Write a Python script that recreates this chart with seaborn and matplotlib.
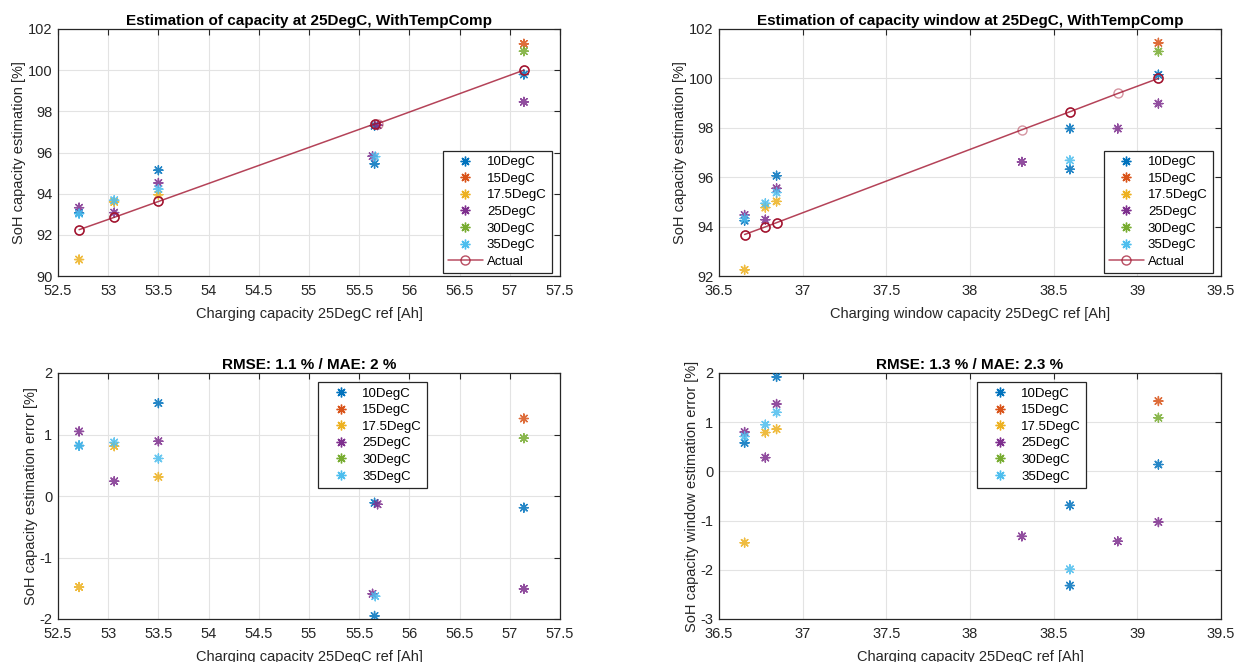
import numpy as np
import pandas as pd
import matplotlib
matplotlib.use("Agg")
import matplotlib.pyplot as plt
from matplotlib.lines import Line2D
import seaborn as sns

# ---------------- data ----------------
temps = ["10DegC", "15DegC", "17.5DegC", "25DegC", "30DegC", "35DegC"]
colors = ["#0072BD", "#D95319", "#EDB120", "#7E2F8E", "#77AC30", "#4DBEEE"]
actual_color = "#A2142F"

# Capacity: reference capacity [Ah] and SoH estimates [%] per temperature
cap_x = {
    "10DegC": [52.71, 53.50, 55.653, 55.653, 57.14],
    "15DegC": [57.14],
    "17.5DegC": [52.71, 53.06, 53.50],
    "25DegC": [52.71, 53.06, 53.50, 55.633, 55.683, 57.14],
    "30DegC": [57.14],
    "35DegC": [52.71, 53.06, 53.50, 55.66],
}
cap_est = {
    "10DegC": [93.06, 95.14, 97.30, 95.45, 99.79],
    "15DegC": [101.28],
    "17.5DegC": [90.80, 93.60, 93.95],
    "25DegC": [93.32, 93.08, 94.52, 95.82, 97.33, 98.46],
    "30DegC": [100.92],
    "35DegC": [93.03, 93.68, 94.22, 95.80],
}
cap_err = {
    "10DegC": [0.82, 1.51, -0.11, -1.95, -0.19],
    "15DegC": [1.26],
    "17.5DegC": [-1.48, 0.81, 0.31],
    "25DegC": [1.05, 0.24, 0.89, -1.59, -0.135, -1.51],
    "30DegC": [0.94],
    "35DegC": [0.82, 0.87, 0.61, -1.63],
}
cap_actual_x = [52.71, 53.06, 53.50, 55.653, 55.683, 57.14]
cap_actual_y = [92.25, 92.85, 93.62, 97.39, 97.40, 100.00]

# Capacity window: reference window capacity [Ah] and SoH estimates [%]
win_x = {
    "10DegC": [36.653, 36.844, 38.597, 38.597, 39.126],
    "15DegC": [39.126],
    "17.5DegC": [36.653, 36.777, 36.844],
    "25DegC": [36.653, 36.777, 36.844, 38.31, 38.883, 39.126],
    "30DegC": [39.126],
    "35DegC": [36.653, 36.777, 36.844, 38.597],
}
win_est = {
    "10DegC": [94.24, 96.06, 97.97, 96.32, 100.15],
    "15DegC": [101.44],
    "17.5DegC": [92.25, 94.77, 95.02],
    "25DegC": [94.47, 94.28, 95.55, 96.62, 97.97, 98.98],
    "30DegC": [101.09],
    "35DegC": [94.33, 94.94, 95.38, 96.68],
}
win_err = {
    "10DegC": [0.58, 1.92, -0.69, -2.32, 0.14],
    "15DegC": [1.43],
    "17.5DegC": [-1.45, 0.79, 0.86],
    "25DegC": [0.80, 0.28, 1.37, -1.32, -1.42, -1.03],
    "30DegC": [1.09],
    "35DegC": [0.71, 0.95, 1.20, -1.99],
}
win_actual_x = [36.653, 36.777, 36.844, 38.31, 38.597, 38.883, 39.126]
win_actual_y = [93.68, 93.99, 94.16, 97.92, 98.65, 99.39, 100.00]

titles = [
    "Estimation of capacity at 25DegC, WithTempComp",
    "Estimation of capacity window at 25DegC, WithTempComp",
    "RMSE: 1.1 % / MAE: 2 %",
    "RMSE: 1.3 % / MAE: 2.3 %",
]
xlabels = [
    "Charging capacity 25DegC ref [Ah]",
    "Charging window capacity 25DegC ref [Ah]",
    "Charging capacity 25DegC ref [Ah]",
    "Charging capacity 25DegC ref [Ah]",
]
ylabels = [
    "SoH capacity estimation [%]",
    "SoH capacity estimation [%]",
    "SoH capacity estimation error [%]",
    "SoH capacity window estimation error [%]",
]


def to_frame(xs, ys):
    rows = []
    for t in temps:
        for a, b in zip(xs[t], ys[t]):
            rows.append({"x": a, "y": b, "temp": t})
    return pd.DataFrame(rows)


# ---------------- style ----------------
sns.set_style("white")
plt.rcParams["font.family"] = ["Liberation Sans", "DejaVu Sans"]
ink = "#262626"
plt.rcParams.update({
    "axes.edgecolor": ink,
    "axes.linewidth": 0.9,
    "xtick.color": ink,
    "ytick.color": ink,
    "xtick.labelcolor": ink,
    "ytick.labelcolor": ink,
    "axes.labelcolor": ink,
    "font.size": 10,
})

fig = plt.figure(figsize=(12.34, 6.62), dpi=100)
W, H = 1234, 662


def px_axes(x0, x1, y0, y1):
    return fig.add_axes([x0 / W, 1 - y1 / H, (x1 - x0) / W, (y1 - y0) / H])


axs = [
    px_axes(58, 560, 29, 276),
    px_axes(719, 1221, 29, 276),
    px_axes(58, 560, 373, 619),
    px_axes(719, 1221, 373, 619),
]

asterisk = (8, 2, 0)
palette = dict(zip(temps, colors))

panels = [
    (cap_x, cap_est, (cap_actual_x, cap_actual_y), (52.5, 57.5), (90, 102), np.arange(52.5, 57.51, 0.5), np.arange(90, 102.1, 2)),
    (win_x, win_est, (win_actual_x, win_actual_y), (36.5, 39.5), (92, 102), np.arange(36.5, 39.51, 0.5), np.arange(92, 102.1, 2)),
    (cap_x, cap_err, None, (52.5, 57.5), (-2, 2), np.arange(52.5, 57.51, 0.5), np.arange(-2, 2.1, 1)),
    (win_x, win_err, None, (36.5, 39.5), (-3, 2), np.arange(36.5, 39.51, 0.5), np.arange(-3, 2.1, 1)),
]


def fmt(v):
    return f"{v:g}"


for i, (ax, (xs, ys, actual, xlim, ylim, xt, yt)) in enumerate(zip(axs, panels)):
    ax.grid(True, color="#e3e3e3", linewidth=0.8, zorder=0)
    ax.set_axisbelow(True)

    df = to_frame(xs, ys)
    sns.scatterplot(data=df, x="x", y="y", hue="temp", hue_order=temps,
                    palette=palette, marker=asterisk, s=42, linewidth=1.0,
                    legend=False, ax=ax, zorder=3, alpha=0.85)

    if actual is not None:
        ax_x, ax_y = actual
        ax.plot(ax_x, ax_y, color=actual_color, lw=1.1, alpha=0.8, zorder=4)
        ax.plot(ax_x, ax_y, ls="none", marker="o", ms=6.5, mfc="none",
                mec=actual_color, mew=1.0, alpha=0.45, zorder=5)
        # points measured at several temperatures get a stronger outline
        counts = df.assign(xr=df["x"].round(3)).groupby("xr").size()
        mx = [a for a in ax_x if counts.get(round(a, 3), 0) >= 2]
        my = [b for a, b in zip(ax_x, ax_y) if counts.get(round(a, 3), 0) >= 2]
        ax.plot(mx, my, ls="none", marker="o", ms=6.5, mfc="none",
                mec=actual_color, mew=1.1, zorder=6)

    ax.set_xlim(*xlim)
    ax.set_ylim(*ylim)
    ax.set_xticks(xt)
    ax.set_xticklabels([fmt(v) for v in xt])
    ax.set_yticks(yt)
    ax.set_yticklabels([fmt(v) for v in yt])
    ax.tick_params(direction="in", length=4, width=0.8, top=True, right=True,
                   labelsize=10.5)
    ax.tick_params(axis="x", pad=6)
    ax.tick_params(axis="y", pad=4)
    for s in ax.spines.values():
        s.set_visible(True)
        s.set_color(ink)
    ax.set_title(titles[i], fontsize=11, fontweight="bold", color="black", pad=3)
    ax.set_xlabel(xlabels[i], fontsize=10.5, labelpad=6)
    ax.set_ylabel(ylabels[i], fontsize=10.5, labelpad=1)

    handles = [Line2D([], [], ls="none", marker=asterisk, ms=7, mew=1.0,
                      color=c, label=t) for t, c in zip(temps, colors)]
    if actual is not None:
        handles.append(Line2D([], [], color=actual_color, lw=1.1, marker="o",
                              ms=6.5, mfc="none", mew=1.0, alpha=0.75, label="Actual"))
        loc, anchor = "lower right", (0.984, 0.012)
    else:
        left = 0.518 if i == 2 else 0.514
        loc, anchor = "upper left", (left, 0.963)
    leg = ax.legend(handles=handles, loc=loc, bbox_to_anchor=anchor,
                    borderaxespad=0, fontsize=9.5, handlelength=2.65,
                    handletextpad=0.3, labelspacing=0.33, borderpad=0.4,
                    fancybox=False, framealpha=1, edgecolor=ink)
    leg.get_frame().set_linewidth(0.9)
    for txt in leg.get_texts():
        txt.set_color("black")

fig.savefig("out.png", dpi=100)
